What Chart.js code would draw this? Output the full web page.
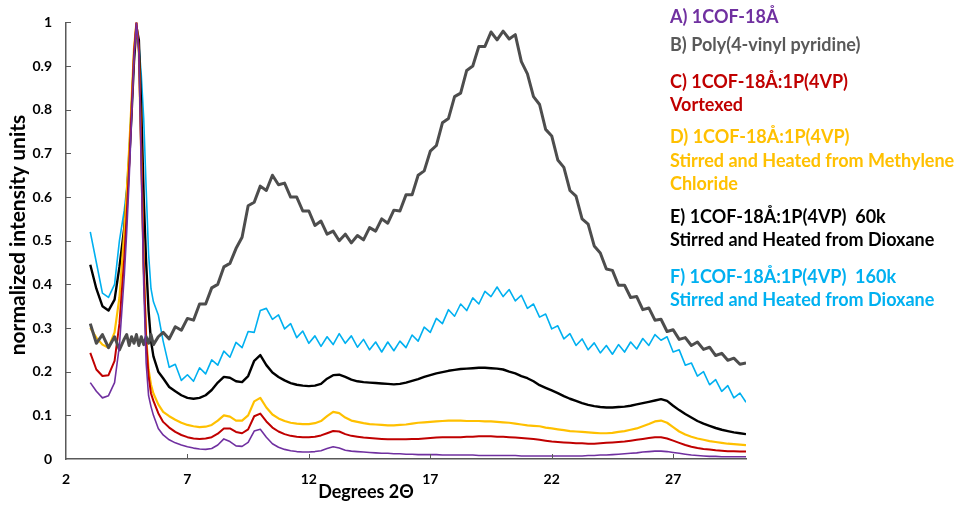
<!DOCTYPE html>
<html>
<head>
<meta charset="utf-8">
<script src="https://cdn.jsdelivr.net/npm/chart.js@4.4.1/dist/chart.umd.min.js"></script>
<style>
  html, body { margin: 0; padding: 0; background: #fff; }
  #wrap { width: 968px; height: 506px; position: relative; }
</style>
</head>
<body>
<div id="wrap"><canvas id="xrd-chart"></canvas></div>
<script>
// Degrees 2-theta (finer around the main peak)
const twoTheta = [
  3.0, 3.25, 3.5, 3.75, 4.0, 4.2, 4.4, 4.5, 4.6, 4.7,
  4.8, 4.9, 5.0, 5.1, 5.2, 5.3, 5.4, 5.5, 5.6, 5.8,
  6, 6.25, 6.5, 6.75, 7, 7.25, 7.5, 7.75, 8, 8.25, 8.5, 8.75,
  9, 9.25, 9.5, 9.75, 10, 10.25, 10.5, 10.75, 11, 11.25, 11.5, 11.75,
  12, 12.25, 12.5, 12.75, 13, 13.25, 13.5, 13.75, 14, 14.25, 14.5, 14.75,
  15, 15.25, 15.5, 15.75, 16, 16.25, 16.5, 16.75, 17, 17.25, 17.5, 17.75,
  18, 18.25, 18.5, 18.75, 19, 19.25, 19.5, 19.75, 20, 20.25, 20.5, 20.75,
  21, 21.25, 21.5, 21.75, 22, 22.25, 22.5, 22.75, 23, 23.25, 23.5, 23.75,
  24, 24.25, 24.5, 24.75, 25, 25.25, 25.5, 25.75, 26, 26.25, 26.5, 26.75,
  27, 27.25, 27.5, 27.75, 28, 28.25, 28.5, 28.75, 29, 29.25, 29.5, 29.75,
  30
];

const xTicks = [2, 7, 12, 17, 22, 27];

// A) 1COF-18Å
const cof18 = [
  0.175, 0.155, 0.14, 0.145, 0.175, 0.26, 0.42, 0.52, 0.64, 0.78,
  0.92, 1.0, 0.93, 0.66, 0.40, 0.22, 0.145, 0.12, 0.10, 0.07,
  0.055, 0.044, 0.037, 0.032, 0.028, 0.025, 0.023, 0.022,
  0.024, 0.032, 0.046, 0.04, 0.03, 0.029, 0.038, 0.064,
  0.068, 0.05, 0.035, 0.027, 0.022, 0.019, 0.017, 0.016,
  0.016, 0.017, 0.019, 0.024, 0.028, 0.025, 0.02, 0.018,
  0.017, 0.016, 0.015, 0.014, 0.013, 0.013, 0.012, 0.012,
  0.011, 0.011, 0.01, 0.01, 0.01, 0.01, 0.009, 0.009,
  0.009, 0.009, 0.009, 0.009, 0.008, 0.008, 0.008, 0.008,
  0.008, 0.008, 0.008, 0.007, 0.007, 0.007, 0.007, 0.007,
  0.007, 0.007, 0.007, 0.007, 0.007, 0.007, 0.008, 0.008,
  0.009, 0.009, 0.01, 0.011, 0.012, 0.013, 0.014, 0.016,
  0.017, 0.018, 0.018, 0.017, 0.015, 0.013, 0.011, 0.009,
  0.008, 0.007, 0.006, 0.006, 0.005, 0.005, 0.005, 0.005,
  0.005
];

// B) Poly(4-vinyl pyridine)
const p4vp = [
  0.31, 0.265, 0.285, 0.255, 0.28, 0.25, 0.275, 0.285, 0.26, 0.28,
  0.265, 0.285, 0.26, 0.28, 0.262, 0.28, 0.265, 0.285, 0.262, 0.28,
  0.29, 0.275, 0.303, 0.295, 0.322, 0.318, 0.355, 0.355,
  0.392, 0.40, 0.44, 0.448, 0.482, 0.508, 0.58, 0.588,
  0.625, 0.615, 0.65, 0.628, 0.632, 0.60, 0.60, 0.568,
  0.568, 0.535, 0.545, 0.515, 0.522, 0.50, 0.515, 0.495,
  0.512, 0.502, 0.53, 0.522, 0.55, 0.54, 0.57, 0.568,
  0.605, 0.605, 0.65, 0.66, 0.705, 0.718, 0.77, 0.78,
  0.83, 0.838, 0.89, 0.90, 0.945, 0.945, 0.978, 0.96,
  0.98, 0.962, 0.972, 0.91, 0.882, 0.83, 0.812, 0.755,
  0.74, 0.685, 0.668, 0.615, 0.602, 0.55, 0.538, 0.488,
  0.472, 0.435, 0.432, 0.398, 0.398, 0.37, 0.372, 0.342,
  0.346, 0.318, 0.32, 0.292, 0.296, 0.274, 0.278, 0.26,
  0.268, 0.251, 0.256, 0.237, 0.242, 0.226, 0.231, 0.217,
  0.22
];

// C) 1COF-18Å:1P(4VP) Vortexed
const vortexed = [
  0.243, 0.205, 0.19, 0.192, 0.225, 0.31, 0.46, 0.56, 0.67, 0.8,
  0.93, 1.0, 0.94, 0.7, 0.44, 0.27, 0.19, 0.15, 0.133, 0.105,
  0.085, 0.072, 0.062, 0.055, 0.05, 0.047, 0.046, 0.047,
  0.05, 0.058, 0.07, 0.07, 0.062, 0.059, 0.068, 0.098,
  0.104, 0.086, 0.072, 0.063, 0.057, 0.053, 0.051, 0.05,
  0.05, 0.051, 0.054, 0.059, 0.064, 0.063, 0.057, 0.053,
  0.051, 0.049, 0.048, 0.047, 0.046, 0.045, 0.045, 0.045,
  0.045, 0.046, 0.046, 0.047, 0.048, 0.049, 0.05, 0.05,
  0.05, 0.05, 0.051, 0.051, 0.052, 0.052, 0.052, 0.051,
  0.051, 0.05, 0.049, 0.048, 0.047, 0.046, 0.044, 0.042,
  0.04, 0.039, 0.038, 0.037, 0.036, 0.036, 0.035, 0.035,
  0.036, 0.037, 0.038, 0.039, 0.04, 0.042, 0.044, 0.046,
  0.048, 0.05, 0.05, 0.047, 0.042, 0.037, 0.032, 0.028,
  0.025, 0.023, 0.022, 0.02, 0.019, 0.018, 0.018, 0.017,
  0.017
];

// D) 1COF-18Å:1P(4VP) stirred/heated, methylene chloride
const stirredDCM = [
  0.3, 0.278, 0.262, 0.255, 0.29, 0.37, 0.52, 0.61, 0.71, 0.82,
  0.94, 1.0, 0.93, 0.69, 0.44, 0.28, 0.205, 0.17, 0.15, 0.125,
  0.108, 0.098, 0.09, 0.083, 0.078, 0.075, 0.073, 0.074,
  0.078, 0.088, 0.1, 0.097, 0.088, 0.088, 0.1, 0.132,
  0.14, 0.118, 0.102, 0.093, 0.087, 0.083, 0.081, 0.08,
  0.08, 0.082, 0.087, 0.098, 0.108, 0.105, 0.095, 0.088,
  0.085, 0.082, 0.08, 0.079, 0.078, 0.077, 0.077, 0.078,
  0.079, 0.081, 0.083, 0.084, 0.085, 0.086, 0.087, 0.088,
  0.088, 0.088, 0.087, 0.087, 0.087, 0.086, 0.086, 0.085,
  0.084, 0.083, 0.081, 0.079, 0.077, 0.076, 0.075, 0.072,
  0.07, 0.068, 0.066, 0.064, 0.063, 0.062, 0.061, 0.06,
  0.059, 0.059, 0.06, 0.062, 0.064, 0.067, 0.07, 0.075,
  0.08, 0.086, 0.088, 0.083, 0.073, 0.063, 0.056, 0.051,
  0.047, 0.044, 0.041, 0.039, 0.037, 0.035, 0.034, 0.033,
  0.032
];

// E) 1COF-18Å:1P(4VP) 60k, dioxane
const dioxane60k = [
  0.445, 0.39, 0.35, 0.34, 0.365, 0.44, 0.53, 0.6, 0.68, 0.79,
  0.91, 0.99, 0.96, 0.8, 0.6, 0.45, 0.34, 0.27, 0.235, 0.2,
  0.185, 0.165, 0.155, 0.146, 0.14, 0.138, 0.14, 0.146,
  0.158, 0.175, 0.188, 0.186, 0.178, 0.176, 0.19, 0.225,
  0.238, 0.215, 0.198, 0.188, 0.18, 0.174, 0.17, 0.168,
  0.167, 0.168, 0.172, 0.184, 0.192, 0.193, 0.188, 0.182,
  0.178, 0.176, 0.175, 0.174, 0.173, 0.172, 0.171, 0.172,
  0.175, 0.179, 0.183, 0.188, 0.192, 0.196, 0.199, 0.202,
  0.204, 0.206, 0.207, 0.208, 0.209, 0.209, 0.208, 0.207,
  0.205, 0.2, 0.196, 0.19, 0.185, 0.178, 0.169, 0.163,
  0.157, 0.151, 0.144, 0.138, 0.133, 0.128, 0.124, 0.121,
  0.119, 0.118, 0.118, 0.119, 0.12, 0.122, 0.125, 0.128,
  0.131, 0.134, 0.137, 0.133, 0.122, 0.112, 0.103, 0.095,
  0.087, 0.081, 0.076, 0.071, 0.067, 0.064, 0.061, 0.059,
  0.057
];

// F) 1COF-18Å:1P(4VP) 160k, dioxane
const dioxane160k = [
  0.52, 0.45, 0.38, 0.37, 0.4, 0.5, 0.57, 0.62, 0.71, 0.82,
  0.93, 0.99, 0.95, 0.88, 0.78, 0.62, 0.47, 0.39, 0.36, 0.33,
  0.27, 0.21, 0.217, 0.18, 0.193, 0.178, 0.209, 0.195,
  0.227, 0.215, 0.247, 0.233, 0.267, 0.255, 0.292, 0.29,
  0.34, 0.345, 0.32, 0.33, 0.298, 0.31, 0.278, 0.293,
  0.265, 0.282, 0.258, 0.28, 0.262, 0.287, 0.265, 0.282,
  0.256, 0.274, 0.25, 0.268, 0.245, 0.268, 0.248, 0.27,
  0.255, 0.284, 0.27, 0.302, 0.29, 0.322, 0.31, 0.342,
  0.327, 0.355, 0.34, 0.369, 0.355, 0.384, 0.372, 0.394,
  0.372, 0.388, 0.362, 0.375, 0.345, 0.355, 0.325, 0.332,
  0.298, 0.305, 0.275, 0.287, 0.26, 0.275, 0.25, 0.266,
  0.243, 0.26, 0.24, 0.262, 0.245, 0.268, 0.252, 0.276,
  0.26, 0.285, 0.272, 0.28, 0.245, 0.25, 0.215, 0.22,
  0.19, 0.2, 0.17, 0.182, 0.155, 0.168, 0.14, 0.151,
  0.13
];

// legend text, drawn on the right like the original
const legendLines = [
  ['A) 1COF-18Å', '#7030A0'],
  ['B) Poly(4-vinyl pyridine)', '#595959'],
  ['C) 1COF-18Å:1P(4VP)', '#C00000'],
  ['Vortexed', '#C00000'],
  ['D) 1COF-18Å:1P(4VP)', '#FFC000'],
  ['Stirred and Heated from Methylene', '#FFC000'],
  ['Chloride', '#FFC000'],
  ['E) 1COF-18Å:1P(4VP)  60k', '#000000'],
  ['Stirred and Heated from Dioxane', '#000000'],
  ['F) 1COF-18Å:1P(4VP)  160k', '#00B0F0'],
  ['Stirred and Heated from Dioxane', '#00B0F0']
];
const legendY = [17, 45, 82, 105, 137, 161, 184, 217, 240, 277, 300];

function series(label, values, color, width) {
  return {
    label: label,
    data: twoTheta.map((x, i) => ({ x: x, y: values[i] })),
    borderColor: color,
    borderWidth: width,
    borderJoinStyle: 'round',
    pointRadius: 0,
    tension: 0,
    fill: false
  };
}

const decor = {
  id: 'decor',
  afterDraw(chart) {
    const ctx = chart.ctx;
    const xs = chart.scales.x, ys = chart.scales.y;
    const area = chart.chartArea;
    ctx.save();
    // inside tick marks
    ctx.strokeStyle = '#595959';
    ctx.lineWidth = 1;
    ctx.beginPath();
    for (let v = 1; v <= 10; v++) {
      const py = Math.round(ys.getPixelForValue(v / 10)) + 0.5;
      ctx.moveTo(area.left, py);
      ctx.lineTo(area.left + 5, py);
    }
    xTicks.slice(1).forEach(v => {
      const px = Math.round(xs.getPixelForValue(v)) + 0.5;
      ctx.moveTo(px, area.bottom);
      ctx.lineTo(px, area.bottom - 5);
    });
    ctx.stroke();

    // axis titles
    ctx.fillStyle = '#000';
    ctx.textAlign = 'center';
    ctx.textBaseline = 'middle';
    ctx.font = 'bold 18px Lato';
    ctx.fillText('Degrees 2Θ', 366, 492);
    ctx.save();
    ctx.translate(18, 235);
    ctx.rotate(-Math.PI / 2);
    ctx.font = 'bold 21px Lato';
    ctx.fillText('normalized intensity units', 0, 0);
    ctx.restore();

    // legend
    ctx.font = 'bold 18px Lato';
    ctx.textAlign = 'left';
    legendLines.forEach((l, i) => {
      ctx.fillStyle = l[1];
      ctx.fillText(l[0], 670, legendY[i]);
    });
    ctx.restore();
  }
};

const tickFont = { family: 'Lato', size: 14, weight: 'bold' };

new Chart(document.getElementById('xrd-chart').getContext('2d'), {
  type: 'line',
  data: {
    datasets: [
      series('A) 1COF-18Å', cof18, '#7030A0', 1.6),
      series('B) Poly(4-vinyl pyridine)', p4vp, '#4d4d4d', 3),
      series('C) 1COF-18Å:1P(4VP) Vortexed', vortexed, '#C00000', 2),
      series('D) 1COF-18Å:1P(4VP) Methylene Chloride', stirredDCM, '#FFC000', 2.2),
      series('E) 1COF-18Å:1P(4VP) 60k', dioxane60k, '#000000', 2.4),
      series('F) 1COF-18Å:1P(4VP) 160k', dioxane160k, '#00B0F0', 1.6)
    ]
  },
  options: {
    responsive: true,
    maintainAspectRatio: false,
    animation: false,
    devicePixelRatio: 1,
    layout: { padding: { left: 0, top: 17, right: 222, bottom: 0 } },
    plugins: {
      legend: { display: false },
      tooltip: { enabled: false }
    },
    scales: {
      x: {
        type: 'linear',
        min: 2,
        max: 30,
        afterBuildTicks: s => { s.ticks = xTicks.map(v => ({ value: v })); },
        afterFit: s => { s.height = 47; },
        grid: { display: false, drawTicks: false },
        border: { display: true, color: '#595959', width: 1.5 },
        ticks: { font: tickFont, color: '#000', padding: 12, maxRotation: 0 }
      },
      y: {
        min: 0,
        max: 1,
        afterFit: s => { s.width = 66; },
        grid: { display: false, drawTicks: false },
        border: { display: true, color: '#595959', width: 1.5 },
        ticks: {
          stepSize: 0.1,
          font: tickFont,
          color: '#000',
          padding: 14,
          callback: v => +v.toFixed(1)
        }
      }
    }
  },
  plugins: [decor]
});
</script>
</body>
</html>
